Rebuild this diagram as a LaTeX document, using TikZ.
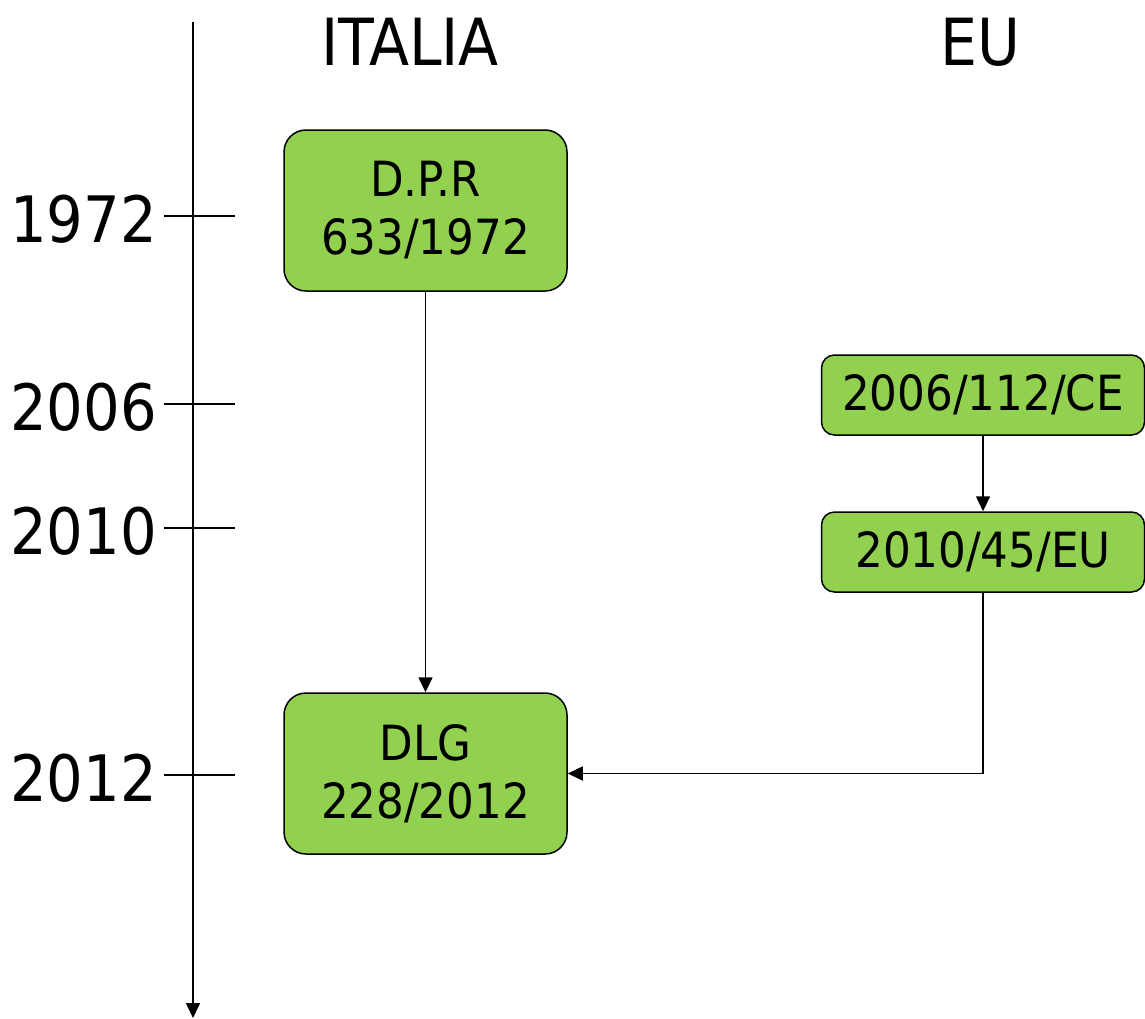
\documentclass[tikz,border=0pt]{standalone}
\usepackage{fontspec}
\setmainfont{DejaVu Sans Condensed}
\usetikzlibrary{arrows.meta}
\definecolor{lawgreen}{HTML}{92D050}
\begin{document}
\begin{tikzpicture}[
	x=1pt, y=-1pt,
	law/.style={draw, line width=1.5pt, fill=lawgreen, rounded corners=22pt, align=center,
		inner sep=0pt, font=\fontsize{48.5}{58}\selectfont},
	shortlaw/.style={law, rounded corners=13pt, minimum width=323pt, minimum height=80pt},
	longlaw/.style={law, minimum width=283pt, minimum height=161pt},
	year/.style={anchor=east, inner sep=0pt, font=\fontsize{64}{64}\selectfont},
	title/.style={inner sep=0pt, font=\fontsize{65}{65}\selectfont},
	link/.style={line width=1.6pt, -{Triangle[length=15pt, width=14pt]}},
	]
	\useasboundingbox (0,0) rectangle (1145,1018);
	%time axis
	\coordinate (top) at (193,22);
	\coordinate (bottom) at (193,1018);
	\draw[link] (top) -- (bottom);

	%years and ticks
	\foreach \yr/\ypos in {1972/216, 2006/404, 2010/528, 2012/775}{
		\coordinate (tickL\yr) at (164,\ypos);
		\coordinate (tickR\yr) at (235,\ypos);
		\draw[line width=1.6pt] (tickL\yr) -- (tickR\yr);
		\node[year] (y\yr) at (157,\ypos+3) {\yr};
	}

	%titles
	\node[title] (italia) at (410,42) {ITALIA};
	\node[title] (eu) at (980,42) {EU};

	%laws
	\node[longlaw] (dpr) at (425.5,210.5) {D.P.R\\633/1972};
	\node[longlaw] (dlg) at (425.5,773.5) {DLG\\228/2012};
	\node[shortlaw] (ce) at (983,395) {2006/112/CE};
	\node[shortlaw] (dir) at (983,552) {2010/45/EU};

	%arrows
	\draw[link] (dpr) -- (dlg);
	\draw[link] (ce) -- (dir);
	\draw[link] (dir.south) |- (dlg.east);
\end{tikzpicture}
\end{document}
